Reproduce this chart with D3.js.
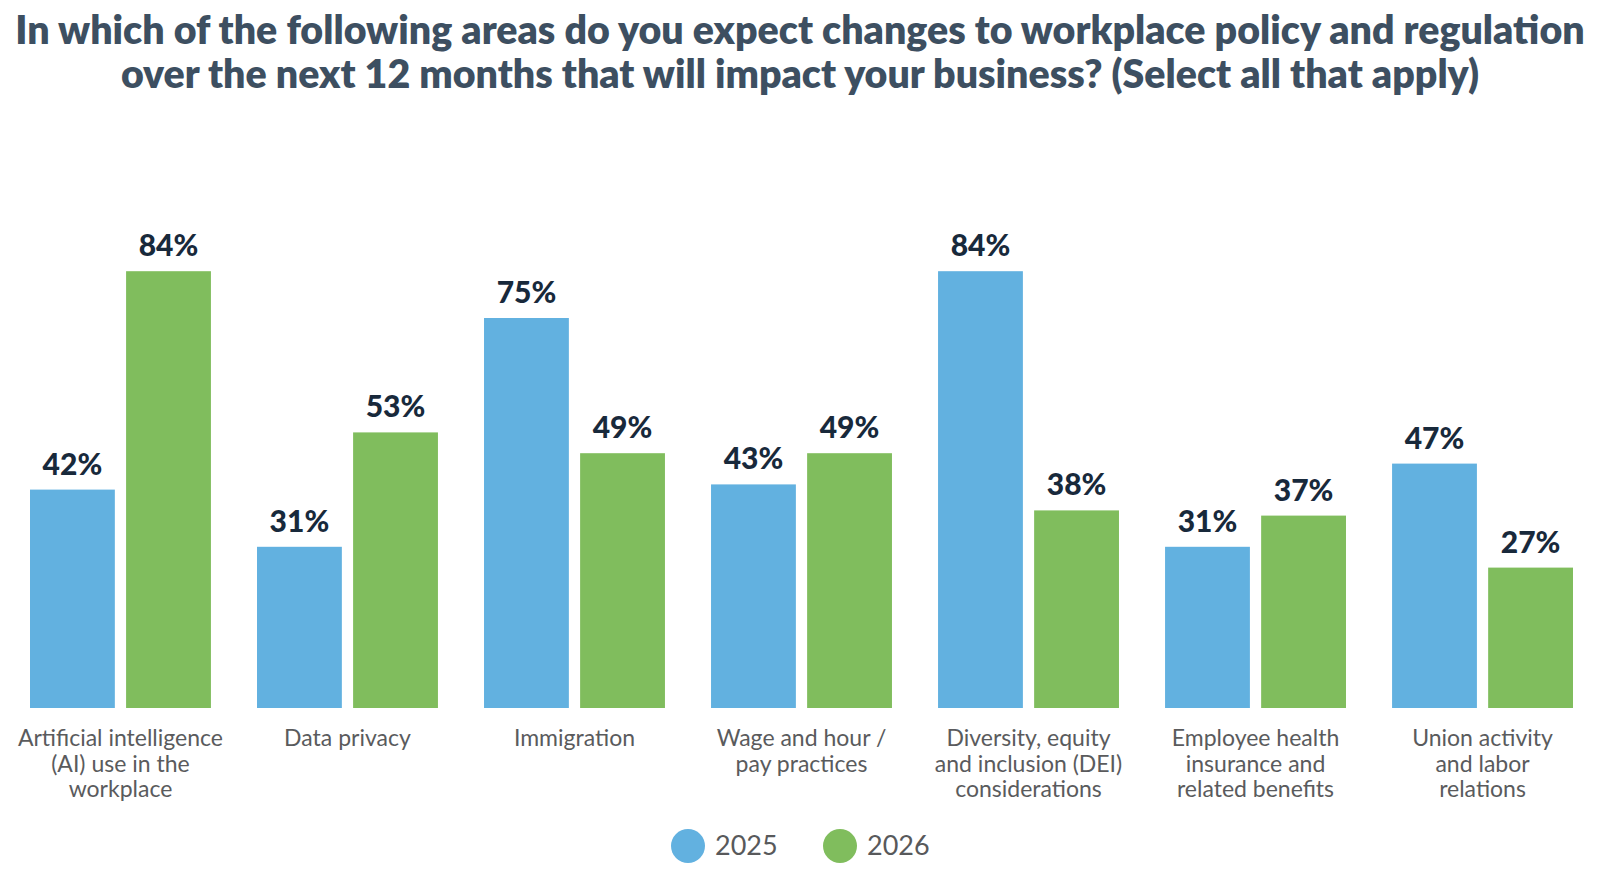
<!DOCTYPE html>
<html lang="en">
    <head>
        <meta charset="utf-8">
        <title>Workplace Policy Changes</title>
        <script src="https://d3js.org/d3.v7.min.js"></script>
        <style type="text/css">
            body {
                margin: 0;
                background: white;
            }
            .title {
                font-family: Lato, "Open Sans", sans-serif;
                font-weight: 800;
                fill: #3d4f61;
            }
            .value {
                font-family: Lato, "Open Sans", sans-serif;
                font-weight: 900;
                font-size: 30px;
                fill: #18293b;
            }
            .cat {
                font-family: Lato, "Open Sans", sans-serif;
                font-size: 23px;
                fill: #5a5b5d;
            }
            .legend text {
                font-family: Lato, "Open Sans", sans-serif;
                font-size: 27px;
                fill: #58595b;
            }
        </style>
    </head>
    <body>
        <script type="text/javascript">

            const w = 1600;
            const h = 879;

            // data
            const categories = ["AI", "Data privacy", "Immigration", "Wage and hour", "DEI", "Health benefits", "Union"];
            const categoryLines = [
                ["Artificial intelligence", "(AI) use in the", "workplace"],
                ["Data privacy"],
                ["Immigration"],
                ["Wage and hour /", "pay practices"],
                ["Diversity, equity", "and inclusion (DEI)", "considerations"],
                ["Employee health", "insurance and", "related benefits"],
                ["Union activity", "and labor", "relations"]
            ];
            const series = ["2025", "2026"];
            const values2025 = [42, 31, 75, 43, 84, 31, 47];
            const values2026 = [84, 53, 49, 49, 38, 37, 27];
            const colors = ["#62b1e0", "#80bd5d"];
            const titleLines = [
                "In which of the following areas do you expect changes to workplace policy and regulation",
                "over the next 12 months that will impact your business? (Select all that apply)"
            ];

            const rows = [];
            categories.forEach((c, i) => {
                rows.push({cat: c, year: "2025", value: values2025[i]});
                rows.push({cat: c, year: "2026", value: values2026[i]});
            });

            const svg = d3.select("body")
                .append("svg")
                .attr("width", w)
                .attr("height", h);

            // title, sized to fit the width of the original
            const title = svg.append("g");
            title.selectAll("text")
                .data(titleLines)
                .join("text")
                .attr("class", "title")
                .attr("x", w / 2)
                .attr("y", (d, i) => 44 + i * 44)
                .attr("text-anchor", "middle")
                .style("font-size", "35px")
                .text(d => d);
            const firstLen = title.select("text").node().getComputedTextLength();
            const fs = 35 * 1570 / firstLen;
            title.selectAll("text").style("font-size", Math.min(fs, 40) + "px");

            //scales
            const x0 = d3.scaleBand()
                .domain(categories)
                .range([30, 1573])
                .paddingInner(0.203)
                .paddingOuter(0);

            const x1 = d3.scaleBand()
                .domain(series)
                .range([0, x0.bandwidth()])
                .paddingInner(0.117);

            const yScale = d3.scaleLinear()
                .domain([0, 100])
                .range([708, 188]);

            const color = d3.scaleOrdinal()
                .domain(series)
                .range(colors);

            // bars
            svg.append("g")
                .selectAll("rect")
                .data(rows)
                .join("rect")
                .attr("x", d => x0(d.cat) + x1(d.year))
                .attr("y", d => yScale(d.value))
                .attr("width", x1.bandwidth())
                .attr("height", d => yScale(0) - yScale(d.value))
                .attr("fill", d => color(d.year));

            // value labels
            svg.append("g")
                .selectAll("text")
                .data(rows)
                .join("text")
                .attr("class", "value")
                .attr("x", d => x0(d.cat) + x1(d.year) + x1.bandwidth() / 2)
                .attr("y", d => yScale(d.value) - 15)
                .attr("text-anchor", "middle")
                .text(d => d.value + "%");

            // category labels
            const catAxis = svg.append("g");
            categories.forEach((c, i) => {
                const t = catAxis.append("text")
                    .attr("class", "cat")
                    .attr("x", x0(c) + x0.bandwidth() / 2)
                    .attr("y", 746)
                    .attr("text-anchor", "middle");
                t.selectAll("tspan")
                    .data(categoryLines[i])
                    .join("tspan")
                    .attr("x", x0(c) + x0.bandwidth() / 2)
                    .attr("dy", (d, j) => j == 0 ? 0 : 25.5)
                    .text(d => d);
            });

            // legend
            const legendX = d3.scalePoint()
                .domain(series)
                .range([688, 840]);

            const legend = svg.append("g")
                .attr("class", "legend")
                .selectAll("g")
                .data(series)
                .join("g")
                .attr("transform", d => "translate(" + legendX(d) + ",846)");

            legend.append("circle")
                .attr("r", 17)
                .attr("fill", d => color(d));

            legend.append("text")
                .attr("x", 27)
                .attr("y", 9)
                .text(d => d);

        </script>
    </body>
</html>
